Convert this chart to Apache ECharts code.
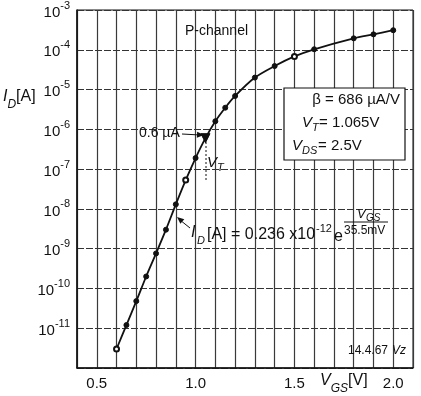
<!DOCTYPE html>
<html>
<head>
<meta charset="utf-8">
<script src="https://cdn.jsdelivr.net/npm/echarts@6/dist/echarts.min.js"></script>
<style>
html,body{margin:0;padding:0;background:#fff;}
#main{width:421px;height:396px;}
</style>
</head>
<body>
<div id="main"></div>
<script>
// measured points, VGS [V] vs ID [A]
var vgs = [0.6, 0.65, 0.7, 0.75, 0.8, 0.85, 0.9, 0.95, 1.0, 1.05, 1.1, 1.15, 1.2, 1.3, 1.4, 1.5, 1.6, 1.8, 1.9, 2.0];
var idA = [3e-12, 1.2e-11, 4.8e-11, 2e-10, 7.6e-10, 3e-9, 1.3e-8, 5.3e-8, 1.9e-7, 6e-7, 1.6e-6, 3.5e-6, 6.9e-6, 2e-5, 3.9e-5, 6.8e-5, 1.03e-4, 1.94e-4, 2.44e-4, 3.1e-4];
var openPoints = [0.6, 0.95, 1.5];
var vtPoint = 1.05;

var xTickLabels = ['0.5', '1.0', '1.5', '2.0'];
var yExponents = [-3, -4, -5, -6, -7, -8, -9, -10, -11];

var FONT = '"Liberation Sans", Arial, sans-serif';

var mainDiv = document.getElementById('main');
var myChart = echarts.init(mainDiv);

var seriesData = vgs.map(function (v, i) {
    var item = {value: [v, idA[i]]};
    if (openPoints.indexOf(v) >= 0) {
        item.symbol = 'emptyCircle';
        item.symbolSize = 5;
    }
    if (v === vtPoint) {
        item.symbol = 'triangle';
        item.symbolSize = 9;
        item.symbolRotate = 180;
    }
    return item;
});

function txt(x, y, text, size, italic, align) {
    return {
        type: 'text', x: x, y: y, z: 100,
        style: {
            text: text, fill: '#111', fontFamily: FONT, fontSize: size,
            fontStyle: italic ? 'italic' : 'normal',
            align: align || 'left', verticalAlign: 'middle'
        }
    };
}

function line(x1, y1, x2, y2, dash) {
    return {
        type: 'line', z: 100,
        shape: {x1: x1, y1: y1, x2: x2, y2: y2},
        style: {stroke: '#111', lineWidth: 1, lineDash: dash || null}
    };
}

function arrowHead(x, y, ang) {
    // small filled arrow head pointing in direction ang
    var l = 7, w = 3;
    var c = Math.cos(ang), s = Math.sin(ang);
    return {
        type: 'polygon', z: 100,
        shape: {points: [[x, y], [x - l * c + w * s, y - l * s - w * c], [x - l * c - w * s, y - l * s + w * c]]},
        style: {fill: '#111'}
    };
}

var option = {
    backgroundColor: '#ffffff',
    animation: false,
    grid: {
        left: 77, right: 8, top: 5, bottom: 28,
        show: true, borderColor: '#111', borderWidth: 1
    },
    xAxis: {
        type: 'value',
        min: 0.4, max: 2.1, interval: 0.1,
        axisLine: {show: true, lineStyle: {color: '#111', width: 1.5}},
        axisTick: {show: false},
        axisLabel: {
            color: '#111', fontFamily: FONT, fontSize: 15, margin: 8,
            formatter: function (v) {
                var s = v.toFixed(1);
                return xTickLabels.indexOf(s) >= 0 ? s : '';
            }
        },
        splitLine: {show: true, lineStyle: {color: '#3a3a3a', width: 1.2}}
    },
    yAxis: {
        type: 'log', logBase: 10,
        min: 1e-12, max: 1e-3,
        axisLine: {show: true, lineStyle: {color: '#111', width: 1.5}},
        axisTick: {show: false},
        minorTick: {show: false},
        axisLabel: {
            color: '#111', fontFamily: FONT, margin: 7,
            formatter: function (v) {
                var e = Math.round(Math.log(v) / Math.LN10);
                if (yExponents.indexOf(e) < 0) return '';
                return '{b|10}{s|' + e + '}';
            },
            rich: {
                b: {fontSize: 15, fontFamily: FONT, color: '#111', lineHeight: 20, verticalAlign: 'bottom'},
                s: {fontSize: 11, fontFamily: FONT, color: '#111', lineHeight: 12, verticalAlign: 'top'}
            }
        },
        splitLine: {show: true, lineStyle: {color: '#333', width: 1, type: [7, 2]}}
    },
    series: [{
        type: 'line',
        data: seriesData,
        smooth: 0.3,
        symbol: 'circle',
        symbolSize: 5,
        showAllSymbol: true,
        lineStyle: {color: '#111', width: 1.8},
        itemStyle: {color: '#111', borderColor: '#111', borderWidth: 1}
    }],
    graphic: [
        // y axis name
        {
            type: 'text', x: 3, y: 100, z: 100,
            style: {
                text: '{i|I}{d|D}{n|[A]}', fontFamily: FONT, fill: '#111', verticalAlign: 'middle',
                rich: {
                    i: {fontSize: 16, fontStyle: 'italic', fontFamily: FONT, verticalAlign: 'top', lineHeight: 16},
                    d: {fontSize: 12, fontStyle: 'italic', fontFamily: FONT, verticalAlign: 'bottom', lineHeight: 22},
                    n: {fontSize: 16, fontFamily: FONT, verticalAlign: 'top', lineHeight: 16}
                }
            }
        },
        // x axis name
        {
            type: 'text', x: 320, y: 384, z: 100,
            style: {
                text: '{i|V}{d|GS}{n|[V]}', fontFamily: FONT, fill: '#111', verticalAlign: 'middle',
                rich: {
                    i: {fontSize: 16, fontStyle: 'italic', fontFamily: FONT, verticalAlign: 'top', lineHeight: 16},
                    d: {fontSize: 12, fontStyle: 'italic', fontFamily: FONT, verticalAlign: 'bottom', lineHeight: 22},
                    n: {fontSize: 16, fontFamily: FONT, verticalAlign: 'top', lineHeight: 16}
                }
            }
        },
        txt(185, 31, 'P-channel', 14),
        // parameter box
        {
            type: 'rect', z: 99,
            shape: {x: 284, y: 88, width: 121, height: 72},
            style: {fill: '#fff', stroke: '#111', lineWidth: 1.2}
        },
        txt(400, 100, 'β = 686 µA/V', 15, false, 'right'),
        txt(302, 123, 'V', 15, true),
        txt(312, 128, 'T', 11, true),
        txt(319, 123, '= 1.065V', 15),
        txt(292, 146, 'V', 15, true),
        txt(302, 151, 'DS', 11, true),
        txt(318, 146, '= 2.5V', 15),
        // 0.6 uA marker
        txt(139, 133, '0.6 µA', 14),
        line(182, 134, 200, 135),
        arrowHead(204, 135, 0.05),
        // VT label and dotted drop
        line(206, 142, 206, 182, [2, 2]),
        txt(207, 163, 'V', 15, true),
        txt(217, 168, 'T', 11, true),
        // equation
        line(190, 228, 180, 220),
        arrowHead(177, 217, Math.atan2(217 - 228, 177 - 190)),
        txt(191, 233, 'I', 16, true),
        txt(197, 241, 'D', 11, true),
        txt(207, 235, '[A] = 0.236 x10', 16),
        txt(316, 229, '-12', 11),
        txt(334, 237, 'e', 16),
        txt(357, 214, 'V', 13, true),
        txt(366, 218, 'GS', 10, true),
        line(344, 222, 388, 222),
        txt(344, 231, '35.5mV', 12),
        // stamp
        txt(348, 351, '14.4.67', 12),
        txt(392, 351, 'Vz', 12, true)
    ]
};
myChart.setOption(option);
</script>
</body>
</html>
